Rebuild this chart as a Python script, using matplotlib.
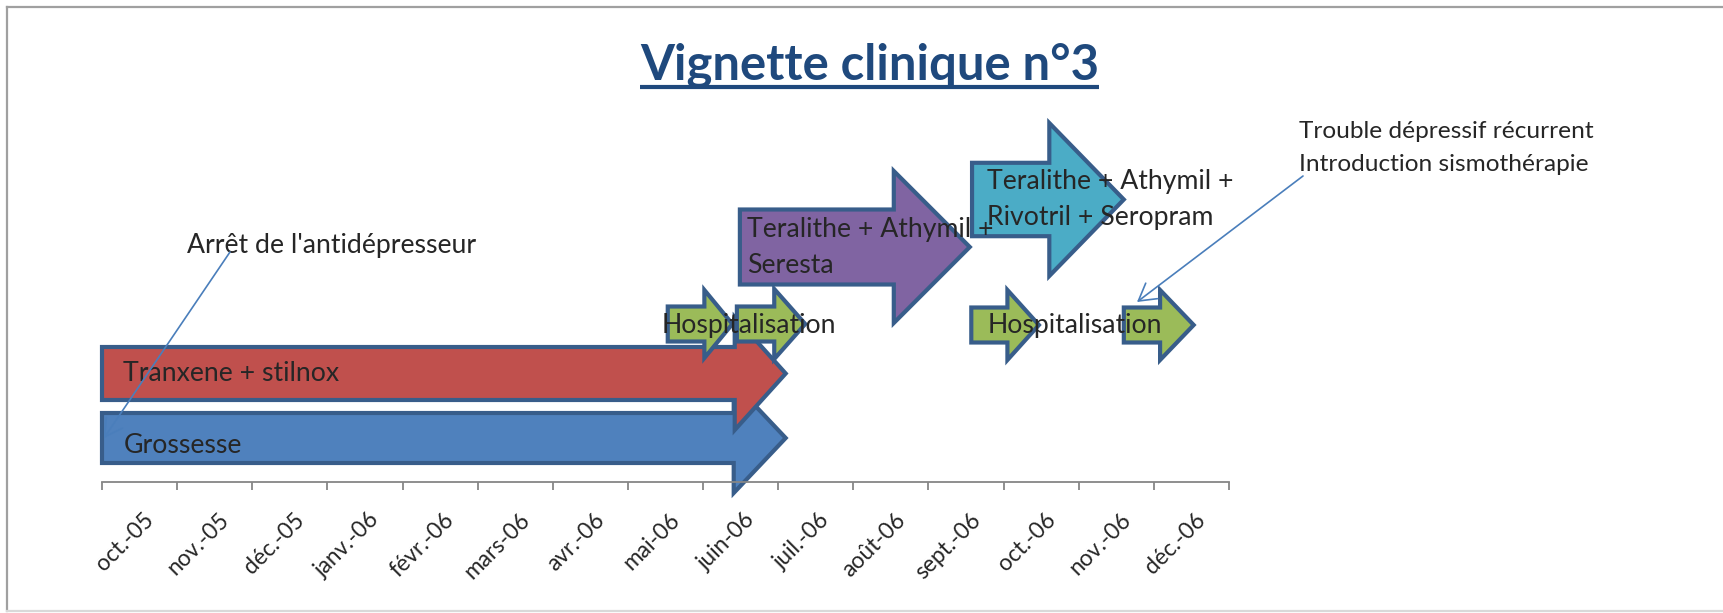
import numpy as np
import matplotlib
matplotlib.use("Agg")
import matplotlib.pyplot as plt
from matplotlib.patches import Polygon
from matplotlib.lines import Line2D
from matplotlib.transforms import ScaledTranslation

# ---------------- data ----------------
title = "Vignette clinique n°3"
months = ["oct.-05", "nov.-05", "déc.-05", "janv.-06", "févr.-06", "mars-06",
          "avr.-06", "mai-06", "juin-06", "juil.-06", "août-06", "sept.-06",
          "oct.-06", "nov.-06", "déc.-06"]
period_names = ["Grossesse", "Tranxene + stilnox", "Hospitalisation", "Hospitalisation",
                "Teralithe + Athymil +\nSeresta", "Hospitalisation", "Hospitalisation",
                "Teralithe + Athymil +\nRivotril + Seropram"]
# months elapsed since 1 oct. 2005
period_start = [0.00, 0.00, 7.53, 8.45, 8.49, 11.57, 13.60, 11.58]
period_end = [9.10, 9.10, 8.39, 9.36, 11.55, 12.47, 14.53, 13.60]
show_label = [True, True, True, False, True, True, False, True]
note_texts = ["Arrêt de l'antidépresseur",
              "Trouble dépressif récurrent\nIntroduction sismothérapie"]

# ---------------- style / layout ----------------
W, H = 1724, 613
FONT = ["Lato", "DejaVu Sans"]
TXT = "#262626"
EDGE = "#385D8A"
fills = ["#4F81BD", "#C0504D", "#9BBB59", "#9BBB59", "#8064A2", "#9BBB59", "#9BBB59", "#4BACC6"]
row_y = [438, 373.5, 324, 324, 247, 325, 325, 199.5]          # vertical layout units (px)
body_half = [25, 26.5, 17.5, 17.5, 37.5, 17.5, 17.5, 36.7]
head_half = [55, 56.5, 34, 35, 76, 35, 35, 76.5]
head_len_px = [52, 51, 28, 31, 76, 31.5, 33.6, 74.5]
label_dx_px = [22, 21, -6.5, 0, 7, 16, 0, 15]
label_base = [453, 381, 333, 333, 237, 333, 333, 189.3]
line_gap = 35.7

AX_L, AX_R, AX_B, AX_T = 102, 1229, 482, 100
px_per_month = (AX_R - AX_L) / 15.0

fig = plt.figure(figsize=(W / 100, H / 100), dpi=100)
fig.patch.set_facecolor("white")
renderer = fig.canvas.get_renderer()


def fit(txt, target, weight="normal", ref=20.0, rotation=0):
    t = fig.text(0, 0, txt, fontsize=ref, family=FONT, weight=weight, rotation=rotation)
    w = t.get_window_extent(renderer).width
    t.remove()
    return ref * target / w


body_fs = fit("Tranxene + stilnox", 216)
title_fs = fit(title, 459, "bold")
note_fs = fit("Trouble dépressif récurrent", 295)
tick_fs = fit("sept.-06", 74, rotation=45)

ax = fig.add_axes([AX_L / W, 1 - AX_B / H, (AX_R - AX_L) / W, (AX_B - AX_T) / H])
ax.set_xlim(0, 15)
ax.set_ylim(AX_B, AX_T)
ax.patch.set_alpha(0)
for s in ["top", "right", "left"]:
    ax.spines[s].set_visible(False)
ax.spines["bottom"].set_color("#868686")
ax.spines["bottom"].set_linewidth(1.3)
ax.set_yticks([])

ax.set_xticks(np.arange(16), minor=True)
ax.tick_params(axis="x", which="minor", length=5.6, width=1.3, color="#868686", direction="out")
ax.set_xticks(np.arange(15) + 0.5)
ax.set_xticklabels(months, rotation=45, ha="right", va="top", rotation_mode="anchor",
                   fontsize=tick_fs, family=FONT, color=TXT)
ax.tick_params(axis="x", which="major", length=0, pad=19.5)
for lbl in ax.get_xticklabels():
    lbl.set_transform(lbl.get_transform() + ScaledTranslation(3.5 / 100, 0, fig.dpi_scale_trans))

# ---------------- arrows ----------------
for i in range(len(period_names)):
    s, e, c = period_start[i], period_end[i], row_y[i]
    hl = head_len_px[i] / px_per_month
    bh, hh = body_half[i], head_half[i]
    pts = [(s, c - bh), (e - hl, c - bh), (e - hl, c - hh), (e, c),
           (e - hl, c + hh), (e - hl, c + bh), (s, c + bh)]
    ax.add_patch(Polygon(pts, closed=True, facecolor=fills[i], edgecolor=EDGE,
                         linewidth=3.0, joinstyle="miter", zorder=2 + i * 0.1, clip_on=False))

for i in range(len(period_names)):
    if not show_label[i]:
        continue
    x = period_start[i] + label_dx_px[i] / px_per_month
    for k, line in enumerate(period_names[i].split("\n")):
        ax.text(x, label_base[i] + k * line_gap, line, fontsize=body_fs, family=FONT,
                color=TXT, ha="left", va="baseline", zorder=5, clip_on=False)

# ---------------- notes ----------------
def mx(px):
    return (px - AX_L) / px_per_month

ax.text(mx(187), 252.7, note_texts[0], fontsize=body_fs, family=FONT, color=TXT,
        ha="left", va="baseline", zorder=6, clip_on=False)
for k, line in enumerate(note_texts[1].split("\n")):
    ax.text(mx(1299), 138.3 + k * 32.4, line, fontsize=note_fs, family=FONT, color=TXT,
            ha="left", va="baseline", zorder=6, clip_on=False)

arrow_kw = dict(arrowstyle="->,head_length=0.6,head_width=0.35", color="#4A7EBB", lw=1.2,
                shrinkA=0, shrinkB=0, mutation_scale=20)
ax.annotate("", xy=(period_start[0] + 2 / px_per_month, row_y[0]), xytext=(mx(230), 252),
            arrowprops=arrow_kw, zorder=7, annotation_clip=False)
ax.annotate("", xy=(mx(1137), 302), xytext=(mx(1303), 176),
            arrowprops=arrow_kw, zorder=7, annotation_clip=False)

# ---------------- title ----------------
t = fig.text(870 / W, 1 - 79 / H, title, fontsize=title_fs, family=FONT, weight="bold",
             color="#1F497D", ha="center", va="baseline")
bb = t.get_window_extent(renderer)
fig.add_artist(Line2D([bb.x0 / W, bb.x1 / W], [1 - 87 / H, 1 - 87 / H],
                      transform=fig.transFigure, color="#1F497D", lw=3.0, solid_capstyle="butt"))

# ---------------- frame ----------------
fig.add_artist(Line2D([7 / W, 1], [1 - 7 / H, 1 - 7 / H], transform=fig.transFigure,
                      color="#A0A0A0", lw=1.6))
fig.add_artist(Line2D([7 / W, 7 / W], [1 - 7 / H, 1 - 611 / H], transform=fig.transFigure,
                      color="#A0A0A0", lw=1.6))
fig.add_artist(Line2D([7 / W, 1], [1 - 611 / H, 1 - 611 / H], transform=fig.transFigure,
                      color="#D9D9D9", lw=1.6))

fig.savefig("out.png", dpi=100, facecolor="white")
